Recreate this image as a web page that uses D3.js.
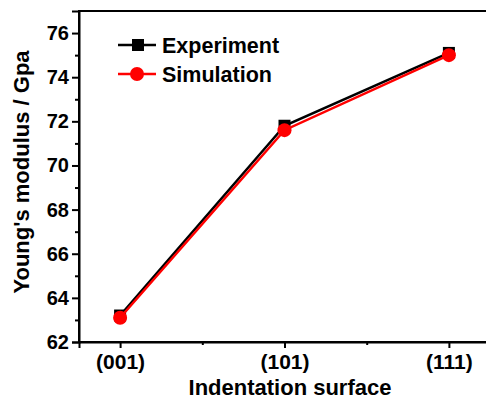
<!DOCTYPE html>
<html>
<head>
<meta charset="utf-8">
<script src="https://cdn.jsdelivr.net/npm/d3@7"></script>
<style>
  body { margin: 0; background: #fff; }
  svg text { font-family: "Liberation Sans", Arial, sans-serif; font-weight: bold; }
</style>
</head>
<body>
<div id="chart"></div>
<script>
// data
var surfaces = ["(001)", "(101)", "(111)"];
var experiment = [63.2, 71.8, 75.1];
var simulation = [63.1, 71.6, 75.0];
var yTicks = [62, 64, 66, 68, 70, 72, 74, 76];
var yMinor = [63, 65, 67, 69, 71, 73, 75];

var W = 486, H = 403;
var margin = { top: 11, left: 79, bottom: 61 };

var svg = d3.select("#chart").append("svg")
  .attr("width", W)
  .attr("height", H);

// x runs a quarter step past each end category
var x = d3.scaleLinear().domain([-0.25, 2.25]).range([margin.left, 490]);
var y = d3.scaleLinear().domain([62, 77]).range([H - margin.bottom, margin.top]);

// frame (right edge falls outside the window)
svg.append("rect")
  .attr("x", x(-0.25))
  .attr("y", y(77))
  .attr("width", x(2.25) - x(-0.25))
  .attr("height", y(62) - y(77))
  .attr("fill", "none")
  .attr("stroke", "#000")
  .attr("stroke-width", 2);

// Y axis
var yAxis = svg.append("g")
  .attr("transform", "translate(" + margin.left + ",0)")
  .call(d3.axisLeft(y).tickValues(yTicks).tickSize(7).tickPadding(3).tickFormat(d3.format("d")));
yAxis.select(".domain").attr("stroke-width", 2);
yAxis.selectAll(".tick line").attr("stroke-width", 2);
yAxis.selectAll("text").attr("font-size", "20px").attr("fill", "#000");

svg.append("g")
  .attr("transform", "translate(" + margin.left + ",0)")
  .call(d3.axisLeft(y).tickValues(yMinor).tickSize(4).tickFormat(""))
  .call(function (g) { g.select(".domain").remove(); })
  .selectAll(".tick line").attr("stroke-width", 2);

// X axis
var xAxis = svg.append("g")
  .attr("transform", "translate(0," + y(62) + ")")
  .call(d3.axisBottom(x).tickValues([0, 1, 2]).tickSize(6).tickPadding(6)
    .tickFormat(function (d) { return surfaces[d]; }));
xAxis.select(".domain").attr("stroke-width", 2);
xAxis.selectAll(".tick line").attr("stroke-width", 2);
xAxis.selectAll("text").attr("font-size", "21px").attr("fill", "#000");

svg.append("g")
  .attr("transform", "translate(0," + y(62) + ")")
  .call(d3.axisBottom(x).tickValues([0.5, 1.5]).tickSize(3).tickFormat(""))
  .call(function (g) { g.select(".domain").remove(); })
  .selectAll(".tick line").attr("stroke-width", 2);

// Lines
var line = d3.line()
  .x(function (d, i) { return x(i); })
  .y(function (d) { return y(d); });

svg.append("path")
  .datum(experiment)
  .attr("d", line)
  .attr("fill", "none")
  .attr("stroke", "#000")
  .attr("stroke-width", 2.5);

svg.selectAll("mysquare")
  .data(experiment)
  .enter()
  .append("rect")
  .attr("x", function (d, i) { return x(i) - 6; })
  .attr("y", function (d) { return y(d) - 6; })
  .attr("width", 12)
  .attr("height", 12)
  .attr("fill", "#000");

svg.append("path")
  .datum(simulation)
  .attr("d", line)
  .attr("fill", "none")
  .attr("stroke", "#ff0000")
  .attr("stroke-width", 2.5);

svg.selectAll("mycircle")
  .data(simulation)
  .enter()
  .append("circle")
  .attr("cx", function (d, i) { return x(i); })
  .attr("cy", function (d) { return y(d); })
  .attr("r", 7)
  .attr("fill", "#ff0000");

// Legend
var legend = [
  { name: "Experiment", color: "#000", shape: "square", y: 45 },
  { name: "Simulation", color: "#ff0000", shape: "circle", y: 74 }
];
legend.forEach(function (l) {
  var g = svg.append("g");
  g.append("line")
    .attr("x1", 118).attr("x2", 156)
    .attr("y1", l.y).attr("y2", l.y)
    .attr("stroke", l.color)
    .attr("stroke-width", 2.5);
  if (l.shape === "square") {
    g.append("rect").attr("x", 132).attr("y", l.y - 6)
      .attr("width", 12).attr("height", 12).attr("fill", l.color);
  } else {
    g.append("circle").attr("cx", 137).attr("cy", l.y).attr("r", 7).attr("fill", l.color);
  }
  g.append("text")
    .attr("x", 162)
    .attr("y", l.y + 8)
    .attr("font-size", "21.5px")
    .attr("fill", "#000")
    .text(l.name);
});

// Axis titles
svg.append("text")
  .attr("text-anchor", "middle")
  .attr("transform", "translate(29," + 172 + ") rotate(-90)")
  .attr("font-size", "22px")
  .attr("fill", "#000")
  .text("Young's modulus / Gpa");

svg.append("text")
  .attr("text-anchor", "middle")
  .attr("x", 290)
  .attr("y", 395)
  .attr("font-size", "22px")
  .attr("fill", "#000")
  .text("Indentation surface");
</script>
</body>
</html>
